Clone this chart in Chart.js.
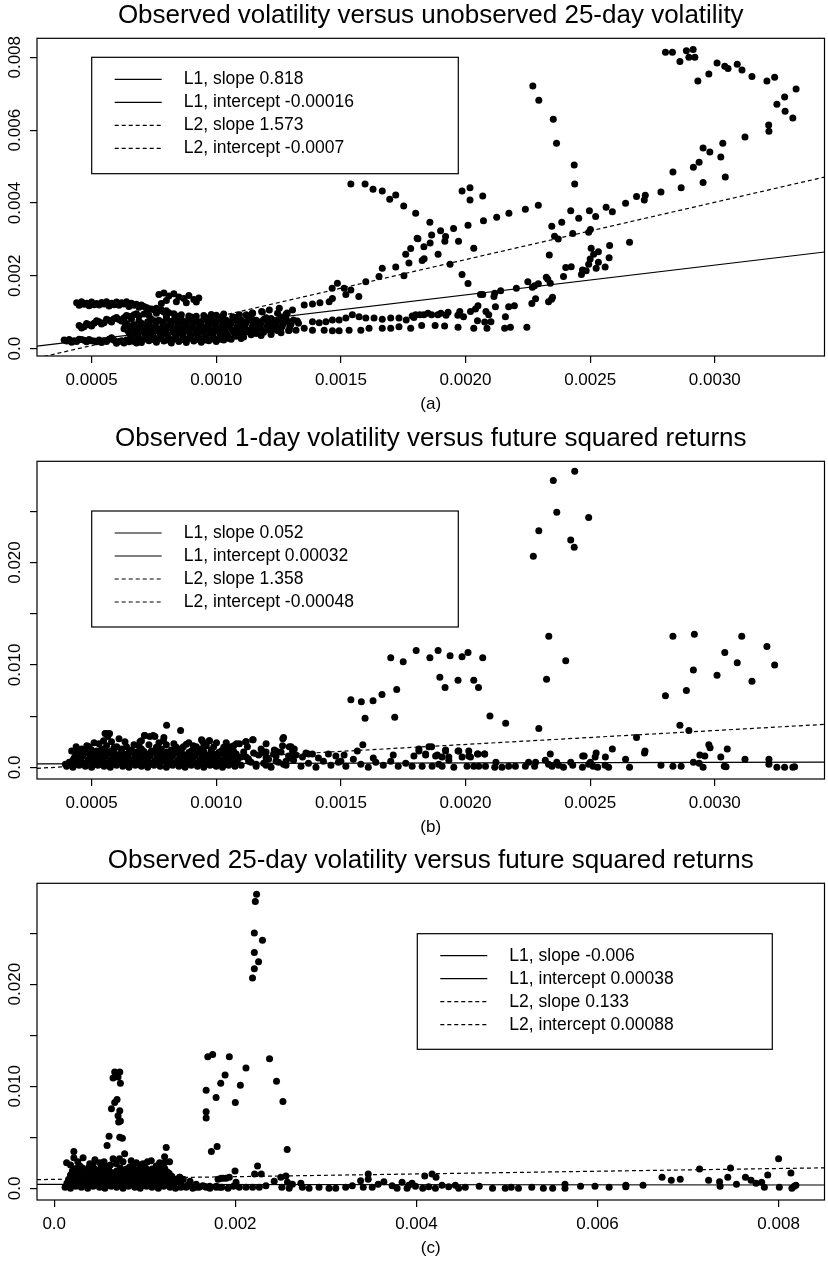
<!DOCTYPE html>
<html>
<head>
<meta charset="utf-8">
<title>Observed volatility scatter plots</title>
<script src="https://cdn.jsdelivr.net/npm/chart.js@4.4.1/dist/chart.umd.min.js"></script>
<style>
  html, body { margin: 0; padding: 0; background: #fff; overflow: hidden; }
  canvas { position: absolute; left: 0; }
</style>
</head>
<body>
<canvas id="chartA" width="828" height="418" style="top:0px"></canvas>
<canvas id="chartB" width="828" height="418" style="top:423px"></canvas>
<canvas id="chartC" width="828" height="417" style="top:845px"></canvas>
<script>
// ---------- data (a): observed vs unobserved 25-day volatility ----------
const ptsA = [
  // upper-right loop
  [28.02e-4,81.4e-4],[28.30e-4,81.4e-4],[28.6e-4,78.8e-4],[28.86e-4,81.8e-4],[28.96e-4,80.0e-4],[29.13e-4,82.1e-4],
  [29.2e-4,80.0e-4],[29.32e-4,73.5e-4],[29.76e-4,75.4e-4],[30.09e-4,78.4e-4],[30.4e-4,77.5e-4],[30.53e-4,76.9e-4],
  [30.9e-4,78.1e-4],[31.09e-4,76.5e-4],[31.49e-4,74.7e-4],[32.09e-4,73.5e-4],[32.4e-4,74.5e-4],[33.26e-4,71.3e-4],
  [32.8e-4,69.1e-4],[32.49e-4,67.1e-4],[32.82e-4,65.2e-4],[33.13e-4,63.3e-4],[32.16e-4,61.4e-4],[32.17e-4,59.7e-4],
  [31.21e-4,58.1e-4],[30.32e-4,56.4e-4],[29.53e-4,55.1e-4],[29.8e-4,54.0e-4],[30.24e-4,52.6e-4],[29.37e-4,51.2e-4],
  [29.14e-4,49.8e-4],[30.42e-4,47.1e-4],[29.53e-4,45.6e-4],[28.65e-4,44.2e-4],[28.32e-4,48.5e-4],[27.84e-4,43.0e-4],
  [27.21e-4,42.1e-4],[27.17e-4,40.8e-4],[26.86e-4,41.8e-4],[26.42e-4,39.9e-4],[25.89e-4,37.6e-4],[25.64e-4,38.8e-4],
  [25.22e-4,36.3e-4],[24.97e-4,37.9e-4],[25.01e-4,32.7e-4],[24.94e-4,32.0e-4],[24.54e-4,35.8e-4],[24.22e-4,37.9e-4],
  [24.3e-4,31.6e-4],[23.86e-4,34.7e-4],[23.46e-4,33.6e-4],[23.57e-4,30.9e-4],[23.72e-4,30.1e-4],[23.36e-4,25.7e-4],
  [22.92e-4,39.4e-4],[22.4e-4,38.3e-4],[21.74e-4,37.2e-4],[21.25e-4,36.1e-4],[20.72e-4,35.1e-4],[20.1e-4,33.9e-4],
  [19.52e-4,33.0e-4],[19.0e-4,32.4e-4],[19.2e-4,30.8e-4],[19.17e-4,29.5e-4],[18.64e-4,31.2e-4],[18.58e-4,29.0e-4],
  [18.33e-4,28.0e-4],[18.09e-4,30.2e-4],[18.57e-4,34.7e-4],[19.72e-4,29.5e-4],[19.38e-4,23.2e-4],[18.9e-4,25.9e-4],
  [18.34e-4,24.7e-4],[18.26e-4,24.2e-4],[17.73e-4,23.5e-4],[17.8e-4,27.5e-4],
  // steep chain
  [22.7e-4,72.1e-4],[22.94e-4,68.2e-4],[23.52e-4,63.0e-4],[23.65e-4,56.4e-4],[24.36e-4,50.4e-4],[24.38e-4,45.2e-4],
  [19.86e-4,43.3e-4],[20.18e-4,44.2e-4],[20.18e-4,40.8e-4],[20.69e-4,41.9e-4],[20.33e-4,27.6e-4],[19.86e-4,20.4e-4],[20.1e-4,17.9e-4],
  // lower-right chain
  [25.04e-4,27.6e-4],[25.14e-4,25.9e-4],[25.33e-4,26.6e-4],[25.0e-4,24.6e-4],[24.94e-4,23.2e-4],[25.33e-4,23.7e-4],
  [25.78e-4,28.3e-4],[25.76e-4,25.0e-4],[26.58e-4,29.2e-4],[25.6e-4,22.4e-4],[25.24e-4,22.1e-4],[24.84e-4,21.4e-4],
  [24.65e-4,20.4e-4],[24.69e-4,21.6e-4],[24.24e-4,22.5e-4],[24.02e-4,22.3e-4],[23.93e-4,19.8e-4],[23.24e-4,19.6e-4],
  [23.3e-4,19.1e-4],[23.4e-4,18.0e-4],[22.92e-4,17.8e-4],[22.77e-4,17.3e-4],[22.68e-4,16.9e-4],[22.5e-4,18.4e-4],
  [23.49e-4,14.1e-4],[23.45e-4,13.6e-4],[23.33e-4,12.9e-4],[22.81e-4,13.7e-4],[22.66e-4,12.4e-4],[22.04e-4,16.6e-4],
  [21.41e-4,15.9e-4],[21.17e-4,15.2e-4],[20.69e-4,14.9e-4],[20.6e-4,14.9e-4],[21.14e-4,14.3e-4],[21.2e-4,11.5e-4],
  [20.82e-4,10.2e-4],[20.5e-4,11.8e-4],[20.4e-4,10.9e-4],[20.2e-4,10.2e-4],[19.92e-4,8.8e-4],[19.77e-4,10.2e-4],
  [19.69e-4,9.2e-4],[19.3e-4,10.0e-4],[19.22e-4,9.2e-4],[19.01e-4,9.7e-4],[18.89e-4,9.3e-4],[18.64e-4,9.3e-4],
  [18.49e-4,9.7e-4],[18.33e-4,9.3e-4],[18.17e-4,9.3e-4],[18.0e-4,9.3e-4],[17.86e-4,9.0e-4],[21.73e-4,11.5e-4],
  [21.96e-4,11.8e-4],[21.6e-4,8.8e-4],[20.93e-4,9.3e-4],[21.02e-4,7.4e-4],[20.48e-4,7.7e-4],[20.77e-4,7.3e-4],
  [20.86e-4,5.6e-4],[20.33e-4,5.6e-4],[19.7e-4,5.9e-4],[19.16e-4,6.2e-4],[18.78e-4,6.4e-4],[18.24e-4,6.4e-4],
  [22.46e-4,5.9e-4],[21.8e-4,5.9e-4],[21.57e-4,5.6e-4],
  // middle band 0.0011-0.0018
  [15.4e-4,45.2e-4],[15.97e-4,45.2e-4],[16.29e-4,43.8e-4],[16.66e-4,43.3e-4],[16.96e-4,41.0e-4],[17.2e-4,42.2e-4],
  [17.52e-4,39.2e-4],[18.0e-4,37.2e-4],[18.06e-4,30.3e-4],[17.6e-4,25.9e-4],[17.53e-4,20.0e-4],[17.2e-4,22.4e-4],
  [16.66e-4,22.1e-4],[16.53e-4,19.8e-4],[16.0e-4,18.4e-4],[15.72e-4,14.3e-4],[15.4e-4,16.1e-4],[15.2e-4,14.9e-4],
  [15.13e-4,16.6e-4],[14.86e-4,18.0e-4],[14.65e-4,16.6e-4],[14.53e-4,12.9e-4],[14.66e-4,13.8e-4],[14.16e-4,12.6e-4],
  [13.86e-4,12.3e-4],[13.53e-4,12.0e-4],[13.06e-4,10.6e-4],[12.8e-4,9.5e-4],[12.46e-4,9.7e-4],[12.13e-4,10.6e-4],
  [11.82e-4,10.2e-4],[11.46e-4,9.7e-4],[11.2e-4,9.3e-4],[10.93e-4,9.3e-4],[10.66e-4,8.8e-4],[11.45e-4,9.8e-4],
  [11.85e-4,10.1e-4],[12.53e-4,11.1e-4],[12.85e-4,9.8e-4],
  [17.93e-4,8.6e-4],[17.62e-4,7.9e-4],[17.33e-4,8.4e-4],[17.0e-4,8.4e-4],[16.66e-4,8.1e-4],[16.33e-4,8.4e-4],
  [16.0e-4,8.4e-4],[15.73e-4,8.8e-4],[15.46e-4,9.3e-4],[15.2e-4,8.4e-4],[14.93e-4,7.9e-4],[14.66e-4,7.9e-4],
  [14.4e-4,7.4e-4],[14.13e-4,7.1e-4],[13.86e-4,7.4e-4],[17.8e-4,5.6e-4],[17.33e-4,6.0e-4],[17.0e-4,5.6e-4],
  [16.66e-4,5.6e-4],[16.13e-4,5.6e-4],[15.8e-4,5.1e-4],[15.33e-4,5.1e-4],[14.93e-4,4.9e-4],[14.66e-4,4.9e-4],
  [14.33e-4,5.1e-4],[13.86e-4,5.1e-4],[13.53e-4,5.6e-4],[13.2e-4,5.1e-4],[12.93e-4,5.1e-4],
  // upper band of the left cluster
  [4.4e-4,12.6e-4],[4.6e-4,12.9e-4],[4.8e-4,12.5e-4],[5.0e-4,12.8e-4],[5.2e-4,12.4e-4],[5.4e-4,12.7e-4],[5.6e-4,12.9e-4],
  [5.8e-4,12.5e-4],[6.0e-4,12.8e-4],[6.2e-4,12.6e-4],[6.4e-4,12.9e-4],[6.6e-4,12.5e-4],[6.8e-4,12.2e-4],[4.5e-4,11.9e-4],
  [4.9e-4,11.8e-4],[5.3e-4,12.0e-4],[5.7e-4,11.7e-4],[6.1e-4,11.9e-4],[6.5e-4,11.6e-4],[6.9e-4,11.4e-4],[7.1e-4,11.6e-4],
  [7.3e-4,11.0e-4],[7.5e-4,10.7e-4],[7.7e-4,10.4e-4],[7.9e-4,10.1e-4],[8.1e-4,9.9e-4],[8.3e-4,9.6e-4],[8.6e-4,9.3e-4],
  [8.9e-4,9.0e-4],[9.2e-4,8.9e-4],[9.5e-4,9.1e-4],[9.8e-4,9.4e-4],[10.0e-4,9.2e-4],[10.3e-4,9.5e-4],
  [4.7e-4,12.2e-4],[5.1e-4,12.1e-4],[5.5e-4,12.3e-4],[5.9e-4,12.1e-4],[6.3e-4,12.3e-4],[6.7e-4,11.9e-4],[7.0e-4,12.0e-4],
  [7.2e-4,11.3e-4],[7.4e-4,10.9e-4],[7.6e-4,11.1e-4],[7.8e-4,10.7e-4],[8.0e-4,10.4e-4],
  // sloping band
  [4.5e-4,6.4e-4],[4.7e-4,6.0e-4],[4.9e-4,6.6e-4],[5.1e-4,7.0e-4],[5.3e-4,7.4e-4],[5.5e-4,7.1e-4],[5.7e-4,7.8e-4],
  [5.9e-4,8.2e-4],[6.1e-4,8.0e-4],[6.3e-4,8.5e-4],[6.5e-4,8.9e-4],[6.7e-4,9.3e-4],[6.9e-4,9.0e-4],[7.1e-4,9.5e-4],
  [7.3e-4,9.2e-4],[4.6e-4,5.7e-4],[5.0e-4,6.2e-4],[5.4e-4,6.8e-4],[5.8e-4,7.3e-4],[6.2e-4,7.6e-4],[6.6e-4,8.1e-4],
  [4.8e-4,6.9e-4],[5.2e-4,7.7e-4],[5.6e-4,8.1e-4],[6.0e-4,8.6e-4],[6.4e-4,9.1e-4],[6.8e-4,9.6e-4],[7.2e-4,9.9e-4],
  [7.6e-4,9.7e-4],[8.0e-4,9.4e-4],[8.4e-4,9.0e-4],
  // bottom band
  [3.9e-4,2.4e-4],[4.1e-4,2.5e-4],[4.3e-4,2.2e-4],[4.5e-4,2.6e-4],[4.7e-4,2.3e-4],[4.9e-4,2.5e-4],[5.1e-4,2.1e-4],
  [5.3e-4,2.4e-4],[5.5e-4,2.2e-4],[5.7e-4,2.6e-4],[5.9e-4,2.3e-4],[6.1e-4,2.0e-4],[6.3e-4,1.6e-4],[4.2e-4,1.8e-4],
  [4.8e-4,1.9e-4],[5.4e-4,1.7e-4],[6.0e-4,1.5e-4],[6.5e-4,1.9e-4],[5.8e-4,3.0e-4],[4.0e-4,2.1e-4],[4.4e-4,2.0e-4],
  [4.6e-4,2.5e-4],[5.0e-4,2.2e-4],[5.2e-4,1.9e-4],[5.6e-4,2.0e-4],[6.2e-4,2.2e-4],[6.4e-4,2.4e-4],[6.8e-4,1.6e-4],
  // small high cluster near 0.0009
  [7.7e-4,14.9e-4],[7.9e-4,15.3e-4],[8.1e-4,14.5e-4],[8.3e-4,15.1e-4],[8.5e-4,14.2e-4],[8.7e-4,13.8e-4],[8.9e-4,14.6e-4],
  [9.1e-4,13.5e-4],[9.3e-4,13.9e-4],[8.0e-4,13.2e-4],[8.4e-4,12.9e-4],[8.8e-4,12.6e-4],[9.2e-4,12.8e-4],[7.8e-4,12.4e-4],
  // dense core
  [6.7e-4,2.0e-4],[7.0e-4,1.7e-4],[7.3e-4,2.2e-4],[7.6e-4,1.8e-4],[7.9e-4,2.1e-4],[8.2e-4,1.6e-4],[8.5e-4,2.0e-4],
  [8.8e-4,1.7e-4],[9.1e-4,2.1e-4],[9.4e-4,1.8e-4],[9.7e-4,2.2e-4],[10.0e-4,2.0e-4],[10.3e-4,2.4e-4],
  [6.85e-4,2.6e-4],[7.15e-4,2.7e-4],[7.45e-4,2.5e-4],[7.75e-4,2.8e-4],[8.05e-4,2.4e-4],[8.35e-4,2.7e-4],[8.65e-4,2.5e-4],
  [8.95e-4,2.8e-4],[9.25e-4,2.6e-4],[9.55e-4,2.4e-4],[9.85e-4,2.7e-4],[10.15e-4,2.6e-4],[10.45e-4,2.9e-4],
  [6.6e-4,3.3e-4],[6.9e-4,3.0e-4],[7.2e-4,3.4e-4],[7.5e-4,3.1e-4],[7.8e-4,3.5e-4],[8.1e-4,2.9e-4],[8.4e-4,3.3e-4],
  [8.7e-4,3.0e-4],[9.0e-4,3.4e-4],[9.3e-4,3.1e-4],[9.6e-4,3.5e-4],[9.9e-4,3.0e-4],[10.2e-4,3.3e-4],[10.5e-4,3.0e-4],
  [10.8e-4,3.4e-4],[11.1e-4,3.2e-4],
  [6.55e-4,3.9e-4],[6.85e-4,3.7e-4],[7.15e-4,4.0e-4],[7.45e-4,3.8e-4],[7.75e-4,4.1e-4],[8.05e-4,3.7e-4],[8.35e-4,3.9e-4],
  [8.65e-4,4.0e-4],[8.95e-4,3.8e-4],[9.25e-4,4.1e-4],[9.55e-4,3.7e-4],[9.85e-4,3.9e-4],[10.15e-4,4.0e-4],[10.45e-4,3.7e-4],
  [10.75e-4,3.9e-4],[11.05e-4,3.8e-4],
  [6.5e-4,4.5e-4],[6.8e-4,4.2e-4],[7.1e-4,4.6e-4],[7.4e-4,4.3e-4],[7.7e-4,4.7e-4],[8.0e-4,4.1e-4],[8.3e-4,4.5e-4],
  [8.6e-4,4.4e-4],[8.9e-4,4.7e-4],[9.2e-4,4.2e-4],[9.5e-4,4.6e-4],[9.8e-4,4.3e-4],[10.1e-4,4.7e-4],[10.4e-4,4.2e-4],
  [10.7e-4,4.5e-4],[11.0e-4,4.3e-4],[11.3e-4,4.6e-4],[11.6e-4,4.2e-4],[11.9e-4,4.5e-4],[12.2e-4,4.6e-4],
  [6.45e-4,5.0e-4],[6.75e-4,5.2e-4],[7.05e-4,4.9e-4],[7.35e-4,5.1e-4],[7.65e-4,5.3e-4],[7.95e-4,4.9e-4],[8.25e-4,5.1e-4],
  [8.55e-4,5.2e-4],[8.85e-4,4.9e-4],[9.15e-4,5.2e-4],[9.45e-4,5.0e-4],[9.75e-4,5.1e-4],[10.05e-4,4.9e-4],[10.35e-4,5.2e-4],
  [10.65e-4,5.0e-4],[10.95e-4,5.1e-4],[11.25e-4,4.9e-4],[11.55e-4,5.2e-4],[11.85e-4,5.0e-4],[12.15e-4,5.1e-4],[12.45e-4,5.0e-4],
  [6.3e-4,5.5e-4],[6.6e-4,5.8e-4],[6.9e-4,5.4e-4],[7.2e-4,5.7e-4],[7.5e-4,5.9e-4],[7.8e-4,5.5e-4],[8.1e-4,5.8e-4],
  [8.4e-4,5.4e-4],[8.7e-4,5.7e-4],[9.0e-4,5.9e-4],[9.3e-4,5.5e-4],[9.6e-4,5.8e-4],[9.9e-4,5.4e-4],[10.2e-4,5.7e-4],
  [10.5e-4,5.9e-4],[10.8e-4,5.5e-4],[11.1e-4,5.8e-4],[11.4e-4,5.4e-4],[11.7e-4,5.7e-4],[12.0e-4,5.5e-4],[12.3e-4,5.9e-4],
  [12.6e-4,5.6e-4],
  [6.35e-4,6.2e-4],[6.65e-4,6.3e-4],[6.95e-4,6.1e-4],[7.25e-4,6.4e-4],[7.55e-4,6.2e-4],[7.85e-4,6.0e-4],[8.15e-4,6.3e-4],
  [8.45e-4,6.2e-4],[8.75e-4,6.4e-4],[9.05e-4,6.1e-4],[9.35e-4,6.3e-4],[9.65e-4,6.2e-4],[9.95e-4,6.4e-4],[10.25e-4,6.1e-4],
  [10.55e-4,6.3e-4],[10.85e-4,6.2e-4],[11.15e-4,6.4e-4],[11.45e-4,6.1e-4],[11.75e-4,6.3e-4],[12.05e-4,6.2e-4],[12.35e-4,6.4e-4],
  [12.65e-4,6.2e-4],[12.95e-4,6.0e-4],
  [6.4e-4,6.9e-4],[6.7e-4,6.6e-4],[7.0e-4,7.0e-4],[7.3e-4,6.7e-4],[7.6e-4,7.1e-4],[7.9e-4,6.6e-4],[8.2e-4,6.9e-4],
  [8.5e-4,7.1e-4],[8.8e-4,6.7e-4],[9.1e-4,7.0e-4],[9.4e-4,6.6e-4],[9.7e-4,6.9e-4],[10.0e-4,7.1e-4],[10.3e-4,6.7e-4],
  [10.6e-4,7.0e-4],[10.9e-4,6.8e-4],[11.2e-4,7.1e-4],[11.5e-4,6.6e-4],[11.8e-4,6.9e-4],[12.1e-4,7.0e-4],[12.4e-4,6.7e-4],
  [12.7e-4,7.0e-4],[13.0e-4,6.8e-4],[13.3e-4,7.0e-4],
  [6.9e-4,7.6e-4],[7.25e-4,7.4e-4],[7.55e-4,7.6e-4],[7.85e-4,7.3e-4],[8.15e-4,7.5e-4],[8.45e-4,7.6e-4],[8.75e-4,7.4e-4],
  [9.05e-4,7.5e-4],[9.35e-4,7.3e-4],[9.65e-4,7.6e-4],[9.95e-4,7.4e-4],[10.25e-4,7.5e-4],[10.55e-4,7.3e-4],[10.85e-4,7.6e-4],
  [11.15e-4,7.4e-4],[11.45e-4,7.5e-4],[11.75e-4,7.3e-4],[12.05e-4,7.6e-4],[12.35e-4,7.4e-4],[12.65e-4,7.5e-4],[12.95e-4,7.3e-4],
  [13.25e-4,7.6e-4],
  [7.4e-4,8.1e-4],[7.7e-4,7.8e-4],[8.0e-4,8.2e-4],[8.3e-4,7.9e-4],[8.6e-4,8.0e-4],[8.9e-4,8.3e-4],[9.2e-4,7.8e-4],
  [9.5e-4,8.1e-4],[9.8e-4,7.9e-4],[10.1e-4,8.2e-4],[10.4e-4,7.8e-4],[10.7e-4,8.1e-4],[11.0e-4,7.9e-4],[11.3e-4,8.2e-4],
  [11.6e-4,7.8e-4],[11.9e-4,8.0e-4],[12.2e-4,8.3e-4],[12.5e-4,7.9e-4],[12.8e-4,8.2e-4],[13.1e-4,7.9e-4],
  [8.0e-4,8.8e-4],[8.5e-4,8.6e-4],[9.0e-4,8.7e-4],[9.6e-4,8.5e-4],[10.2e-4,8.7e-4],[10.8e-4,8.6e-4],[11.4e-4,8.8e-4],
  [12.0e-4,8.5e-4],[12.6e-4,8.7e-4],
  [11.4e-4,3.8e-4],[11.8e-4,3.6e-4],[12.2e-4,3.9e-4],[12.6e-4,4.4e-4],[12.9e-4,5.0e-4],[10.6e-4,2.6e-4],[11.0e-4,2.8e-4]
];

// ---------- data (b): observed 1-day volatility vs future squared returns ----------
const ptsB = [
  [24.38e-4,28.9e-3],[23.52e-4,28.0e-3],[23.66e-4,24.9e-3],[24.94e-4,24.4e-3],[22.94e-4,23.1e-3],[24.22e-4,22.2e-3],
  [24.36e-4,21.5e-3],[22.72e-4,20.6e-3],[23.34e-4,12.8e-3],[24.02e-4,10.4e-3],[23.25e-4,8.6e-3],[22.94e-4,3.8e-3],
  [18.02e-4,11.4e-3],[18.57e-4,10.7e-3],[18.9e-4,11.4e-3],[19.38e-4,10.9e-3],[19.86e-4,10.8e-3],[20.1e-4,11.2e-3],
  [20.69e-4,10.7e-3],[18.97e-4,8.8e-3],[19.18e-4,7.8e-3],[19.7e-4,8.5e-3],[20.33e-4,8.5e-3],[20.52e-4,7.8e-3],
  [20.98e-4,5.0e-3],[21.61e-4,4.3e-3],[17.0e-4,10.7e-3],[17.5e-4,10.3e-3],
  [28.32e-4,12.8e-3],[29.18e-4,13.0e-3],[31.08e-4,12.8e-3],[32.09e-4,11.8e-3],[32.4e-4,10.0e-3],[30.4e-4,11.2e-3],
  [30.9e-4,10.2e-3],[29.14e-4,9.5e-3],[30.09e-4,9.0e-3],[31.49e-4,8.4e-3],[28.86e-4,7.5e-3],[28.02e-4,7.0e-3],
  [26.86e-4,2.9e-3],[28.6e-4,4.1e-3],[28.96e-4,3.6e-3],
  [15.4e-4,6.6e-3],[15.82e-4,6.4e-3],[15.97e-4,4.8e-3],[16.29e-4,6.5e-3],[16.65e-4,7.1e-3],[17.24e-4,7.6e-3],
  [17.16e-4,4.9e-3],[11.46e-4,2.7e-3],[12.7e-4,2.9e-3],[15.88e-4,2.2e-3],[15.66e-4,1.6e-3],[15.13e-4,1.2e-3],
  [13.86e-4,1.3e-3],[13.7e-4,1.3e-3],[18.64e-4,2.0e-3],[18.13e-4,1.8e-3],[17.93e-4,1.1e-3],[18.4e-4,1.2e-3],
  [19.2e-4,1.7e-3],[19.7e-4,1.6e-3],[20.13e-4,1.1e-3],[20.48e-4,1.3e-3],[20.77e-4,1.3e-3],[19.33e-4,1.0e-3],
  [18.87e-4,1.2e-3],[13.13e-4,1.8e-3],[12.93e-4,2.0e-3],[12.66e-4,2.1e-3],[12.33e-4,1.7e-3],[13.06e-4,1.6e-3],
  [13.46e-4,1.0e-3],[12.0e-4,1.5e-3],
  [29.76e-4,2.2e-3],[29.81e-4,1.9e-3],[30.5e-4,1.8e-3],[30.24e-4,1.0e-3],[29.4e-4,1.2e-3],[29.6e-4,1.1e-3],
  [31.21e-4,0.8e-3],[32.17e-4,0.8e-3],[32.17e-4,0.3e-3],[32.49e-4,0.0],[32.8e-4,0.0],[33.13e-4,0.0],[33.2e-4,0.05e-3],
  [30.38e-4,0.1e-3],[30.45e-4,0.05e-3],[29.53e-4,0.0],[29.14e-4,0.5e-3],[29.37e-4,0.4e-3],[28.65e-4,0.1e-3],
  [28.32e-4,0.1e-3],[27.84e-4,0.2e-3],[27.18e-4,1.4e-3],[27.2e-4,1.6e-3],[26.42e-4,0.8e-3],[26.58e-4,0.0],
  [25.89e-4,1.8e-3],[25.61e-4,1.0e-3],[25.24e-4,1.4e-3],[25.2e-4,1.0e-3],[24.7e-4,1.1e-3],[24.76e-4,1.1e-3],
  [24.22e-4,0.5e-3],[24.3e-4,0.2e-3],[24.69e-4,0.0],[24.94e-4,0.3e-3],[25.01e-4,0.5e-3],[25.12e-4,0.1e-3],
  [25.3e-4,0.0],[25.74e-4,0.0],[25.6e-4,0.2e-3],[23.4e-4,1.3e-3],[23.2e-4,0.7e-3],[23.33e-4,0.3e-3],
  [23.47e-4,0.1e-3],[23.66e-4,0.5e-3],[23.73e-4,0.2e-3],[23.93e-4,0.0],[22.81e-4,0.5e-3],[22.53e-4,0.5e-3],
  [22.77e-4,0.1e-3],[22.4e-4,0.1e-3],[22.0e-4,0.1e-3],[21.73e-4,0.1e-3],[21.46e-4,0.0],[21.22e-4,0.5e-3],
  [21.17e-4,0.0],[20.8e-4,0.1e-3],[20.53e-4,0.1e-3],[20.33e-4,0.1e-3],[20.06e-4,0.1e-3],[20.76e-4,1.3e-3],
  [20.5e-4,1.3e-3],[20.13e-4,1.6e-3],[19.73e-4,1.6e-3],[19.2e-4,1.6e-3],[19.06e-4,1.0e-3],[19.33e-4,0.7e-3],
  [18.53e-4,2.0e-3],[18.13e-4,1.6e-3],[18.4e-4,1.3e-3],[18.8e-4,1.1e-3],[19.53e-4,0.0],[19.86e-4,1.0e-3],
  [20.2e-4,1.0e-3],[18.66e-4,0.1e-3],[18.26e-4,0.1e-3],[17.86e-4,0.1e-3],[18.93e-4,0.3e-3],[19.06e-4,0.1e-3],
  // low strip 0.0011-0.0018
  [11.0e-4,0.2e-3],[11.3e-4,0.6e-3],[11.6e-4,0.1e-3],[11.9e-4,0.4e-3],[12.2e-4,0.0],[12.5e-4,0.5e-3],[12.8e-4,0.2e-3],
  [13.1e-4,0.7e-3],[13.4e-4,0.1e-3],[13.7e-4,0.4e-3],[14.0e-4,0.0],[14.3e-4,0.6e-3],[14.6e-4,0.2e-3],[14.9e-4,0.5e-3],
  [15.2e-4,0.1e-3],[15.5e-4,0.8e-3],[15.8e-4,0.3e-3],[16.1e-4,0.0],[16.4e-4,0.5e-3],[16.7e-4,0.2e-3],[17.0e-4,0.6e-3],
  [17.3e-4,0.1e-3],[17.6e-4,0.4e-3],[11.2e-4,1.0e-3],[12.0e-4,0.9e-3],[12.9e-4,1.1e-3],[14.1e-4,0.9e-3],[14.8e-4,1.1e-3],
  [16.3e-4,0.9e-3],[17.1e-4,1.2e-3],[15.0e-4,0.6e-3],[13.6e-4,1.4e-3],[14.5e-4,1.3e-3],
  // dense left cluster
  [4.0e-4,0.1e-3],[4.25e-4,0.0],[4.5e-4,0.2e-3],[4.75e-4,0.1e-3],[5.0e-4,0.0],[5.25e-4,0.2e-3],[5.5e-4,0.1e-3],
  [5.75e-4,0.0],[6.0e-4,0.2e-3],[6.25e-4,0.1e-3],[6.5e-4,0.0],[6.75e-4,0.2e-3],[7.0e-4,0.1e-3],[7.25e-4,0.0],
  [7.5e-4,0.2e-3],[7.75e-4,0.1e-3],[8.0e-4,0.0],[8.25e-4,0.2e-3],[8.5e-4,0.1e-3],[8.75e-4,0.0],[9.0e-4,0.2e-3],
  [9.25e-4,0.1e-3],[9.5e-4,0.0],[9.75e-4,0.2e-3],[10.0e-4,0.1e-3],[10.25e-4,0.0],[10.5e-4,0.2e-3],[10.75e-4,0.1e-3],
  [4.15e-4,0.3e-3],[4.45e-4,0.3e-3],[4.75e-4,0.35e-3],[5.05e-4,0.3e-3],[5.35e-4,0.3e-3],[5.65e-4,0.35e-3],[5.95e-4,0.3e-3],
  [6.25e-4,0.3e-3],[6.55e-4,0.35e-3],[6.85e-4,0.3e-3],[7.15e-4,0.3e-3],[7.45e-4,0.35e-3],[7.75e-4,0.3e-3],[8.05e-4,0.3e-3],
  [8.35e-4,0.35e-3],[8.65e-4,0.3e-3],[8.95e-4,0.3e-3],[9.25e-4,0.35e-3],[9.55e-4,0.3e-3],[9.85e-4,0.3e-3],[10.15e-4,0.35e-3],
  [10.45e-4,0.3e-3],[10.75e-4,0.3e-3],
  [4.1e-4,0.5e-3],[4.4e-4,0.6e-3],[4.7e-4,0.4e-3],[5.0e-4,0.5e-3],[5.3e-4,0.6e-3],[5.6e-4,0.4e-3],[5.9e-4,0.5e-3],
  [6.2e-4,0.6e-3],[6.5e-4,0.4e-3],[6.8e-4,0.5e-3],[7.1e-4,0.6e-3],[7.4e-4,0.4e-3],[7.7e-4,0.5e-3],[8.0e-4,0.6e-3],
  [8.3e-4,0.4e-3],[8.6e-4,0.5e-3],[8.9e-4,0.6e-3],[9.2e-4,0.4e-3],[9.5e-4,0.5e-3],[9.8e-4,0.6e-3],[10.1e-4,0.4e-3],
  [10.4e-4,0.5e-3],[10.7e-4,0.6e-3],
  [4.25e-4,0.7e-3],[4.55e-4,0.75e-3],[4.85e-4,0.7e-3],[5.15e-4,0.65e-3],[5.45e-4,0.7e-3],[5.75e-4,0.75e-3],[6.05e-4,0.7e-3],
  [6.35e-4,0.65e-3],[6.65e-4,0.7e-3],[6.95e-4,0.75e-3],[7.25e-4,0.7e-3],[7.55e-4,0.65e-3],[7.85e-4,0.7e-3],[8.15e-4,0.75e-3],
  [8.45e-4,0.7e-3],[8.75e-4,0.65e-3],[9.05e-4,0.7e-3],[9.35e-4,0.75e-3],[9.65e-4,0.7e-3],[9.95e-4,0.65e-3],[10.25e-4,0.7e-3],
  [10.55e-4,0.75e-3],[10.85e-4,0.7e-3],
  [4.3e-4,0.9e-3],[4.6e-4,1.0e-3],[4.9e-4,0.8e-3],[5.2e-4,0.9e-3],[5.5e-4,1.0e-3],[5.8e-4,0.8e-3],[6.1e-4,0.9e-3],
  [6.4e-4,1.0e-3],[6.7e-4,0.8e-3],[7.0e-4,0.9e-3],[7.3e-4,1.0e-3],[7.6e-4,0.8e-3],[7.9e-4,0.9e-3],[8.2e-4,1.0e-3],
  [8.5e-4,0.8e-3],[8.8e-4,0.9e-3],[9.1e-4,1.0e-3],[9.4e-4,0.8e-3],[9.7e-4,0.9e-3],[10.0e-4,1.0e-3],[10.3e-4,0.8e-3],
  [10.6e-4,0.9e-3],
  [4.35e-4,1.1e-3],[4.65e-4,1.15e-3],[4.95e-4,1.1e-3],[5.25e-4,1.05e-3],[5.55e-4,1.1e-3],[5.85e-4,1.15e-3],[6.15e-4,1.1e-3],
  [6.45e-4,1.05e-3],[6.75e-4,1.1e-3],[7.05e-4,1.15e-3],[7.35e-4,1.1e-3],[7.65e-4,1.05e-3],[7.95e-4,1.1e-3],[8.25e-4,1.15e-3],
  [8.55e-4,1.1e-3],[8.85e-4,1.05e-3],[9.15e-4,1.1e-3],[9.45e-4,1.15e-3],[9.75e-4,1.1e-3],[10.05e-4,1.05e-3],[10.35e-4,1.1e-3],
  [10.65e-4,1.15e-3],
  [4.5e-4,1.3e-3],[4.8e-4,1.4e-3],[5.1e-4,1.2e-3],[5.4e-4,1.3e-3],[5.7e-4,1.4e-3],[6.0e-4,1.2e-3],[6.3e-4,1.3e-3],
  [6.6e-4,1.4e-3],[6.9e-4,1.2e-3],[7.2e-4,1.3e-3],[7.5e-4,1.4e-3],[7.8e-4,1.2e-3],[8.1e-4,1.3e-3],[8.4e-4,1.4e-3],
  [8.7e-4,1.2e-3],[9.0e-4,1.3e-3],[9.3e-4,1.4e-3],[9.6e-4,1.2e-3],[9.9e-4,1.3e-3],[10.2e-4,1.4e-3],[10.5e-4,1.2e-3],
  [10.8e-4,1.3e-3],
  [4.4e-4,1.5e-3],[4.7e-4,1.55e-3],[5.0e-4,1.5e-3],[5.3e-4,1.45e-3],[5.6e-4,1.5e-3],[5.9e-4,1.55e-3],[6.2e-4,1.5e-3],
  [6.5e-4,1.45e-3],[6.8e-4,1.5e-3],[7.1e-4,1.55e-3],[7.4e-4,1.5e-3],[7.7e-4,1.45e-3],[8.0e-4,1.5e-3],[8.3e-4,1.55e-3],
  [8.6e-4,1.5e-3],[8.9e-4,1.45e-3],[9.2e-4,1.5e-3],[9.5e-4,1.55e-3],[9.8e-4,1.5e-3],[10.1e-4,1.45e-3],[10.4e-4,1.5e-3],
  [10.7e-4,1.55e-3],
  [4.6e-4,1.8e-3],[5.0e-4,1.7e-3],[5.4e-4,1.8e-3],[5.8e-4,1.6e-3],[6.2e-4,1.8e-3],[6.6e-4,1.7e-3],[7.0e-4,1.8e-3],
  [7.4e-4,1.6e-3],[7.8e-4,1.8e-3],[8.2e-4,1.7e-3],[8.6e-4,1.8e-3],[9.0e-4,1.6e-3],[9.4e-4,1.8e-3],[9.8e-4,1.7e-3],
  [10.2e-4,1.6e-3],[10.6e-4,1.8e-3],
  [4.9e-4,2.0e-3],[5.6e-4,2.1e-3],[5.9e-4,1.9e-3],[6.4e-4,2.0e-3],[6.9e-4,2.1e-3],[7.3e-4,2.2e-3],[7.6e-4,1.95e-3],
  [8.0e-4,2.2e-3],[8.4e-4,1.95e-3],[8.8e-4,2.25e-3],[9.2e-4,2.0e-3],[9.6e-4,2.1e-3],[10.3e-4,1.95e-3],[10.7e-4,2.1e-3],
  [5.1e-4,2.4e-3],[5.8e-4,2.5e-3],[7.0e-4,2.6e-3],[7.7e-4,2.4e-3],[8.9e-4,2.4e-3],[9.5e-4,2.3e-3],[10.4e-4,2.4e-3],
  [6.1e-4,2.8e-3],[7.9e-4,2.9e-3],[5.65e-4,3.0e-3],
  [8.01e-4,4.1e-3],[8.57e-4,3.6e-3],[5.54e-4,3.3e-3],[5.72e-4,3.3e-3],[7.12e-4,3.1e-3],[7.34e-4,3.0e-3],[7.54e-4,3.0e-3],
  [9.41e-4,2.7e-3],[9.72e-4,2.6e-3],[10.01e-4,2.4e-3],[11.18e-4,2.5e-3],[11.48e-4,2.7e-3],[6.34e-4,2.5e-3],[6.94e-4,2.5e-3],
  [7.88e-4,2.6e-3],[5.48e-4,2.6e-3],[4.38e-4,2.0e-3],[4.81e-4,2.1e-3],[4.55e-4,1.6e-3],[5.21e-4,1.6e-3],[6.01e-4,2.0e-3],
  [10.81e-4,2.3e-3],[10.54e-4,2.0e-3],[9.08e-4,2.1e-3],[8.68e-4,2.0e-3],[12.67e-4,2.8e-3],[11.2e-4,2.5e-3],[10.93e-4,2.3e-3],
  [9.73e-4,2.6e-3],[9.44e-4,2.6e-3],[7.13e-4,3.1e-3],[7.47e-4,3.1e-3],[5.6e-4,3.3e-3],[12.4e-4,1.6e-3],[13.0e-4,2.0e-3],
  [11.0e-4,1.0e-3],[11.4e-4,0.5e-3],[11.7e-4,1.2e-3],[12.1e-4,0.8e-3],[12.4e-4,1.1e-3],[12.8e-4,0.6e-3],[13.2e-4,1.2e-3],
  [12.6e-4,1.5e-3],[11.8e-4,1.8e-3],[5.3e-4,2.3e-3],[6.7e-4,2.2e-3],[8.3e-4,2.3e-3],[9.9e-4,2.0e-3],[4.2e-4,1.6e-3],
  [3.95e-4,0.3e-3],[11.1e-4,1.5e-3],[11.5e-4,1.4e-3],[11.9e-4,1.5e-3],[12.3e-4,1.3e-3],[11.3e-4,0.8e-3],[11.6e-4,0.3e-3],
  [12.0e-4,0.2e-3],[12.4e-4,0.6e-3],[12.7e-4,0.3e-3],[13.0e-4,0.9e-3],[11.25e-4,2.0e-3],[12.0e-4,2.3e-3]
];

// ---------- data (c): observed 25-day volatility vs future squared returns ----------
const ptsC = [
  [2.235e-3,28.8e-3],[2.221e-3,28.1e-3],[2.21e-3,25.0e-3],[2.30e-3,24.3e-3],[2.21e-3,23.1e-3],[2.257e-3,22.2e-3],
  [2.21e-3,21.5e-3],[2.19e-3,20.6e-3],[2.378e-3,12.7e-3],[2.455e-3,10.5e-3],[2.526e-3,8.5e-3],[2.573e-3,3.8e-3],
  [2.246e-3,2.2e-3],[2.213e-3,1.4e-3],[2.287e-3,1.4e-3],[1.696e-3,12.9e-3],[1.75e-3,13.1e-3],[1.934e-3,12.9e-3],
  [2.118e-3,11.8e-3],[1.887e-3,11.1e-3],[1.839e-3,10.3e-3],[2.056e-3,10.1e-3],[1.678e-3,9.6e-3],[1.788e-3,8.9e-3],
  [2.0e-3,8.4e-3],[1.678e-3,7.5e-3],[1.678e-3,6.9e-3],[1.799e-3,4.1e-3],[1.736e-3,3.6e-3],[1.997e-3,1.7e-3],
  [1.843e-3,1.0e-3],[1.898e-3,1.0e-3],[1.934e-3,1.1e-3],[2.43e-3,0.7e-3],[2.503e-3,1.1e-3],[2.559e-3,1.2e-3],
  [2.576e-3,0.6e-3],[2.008e-3,0.6e-3],
  [1.457e-3,0.1e-3],[1.568e-3,0.1e-3],[1.678e-3,0.1e-3],[1.788e-3,0.1e-3],[2.044e-3,0.1e-3],[2.118e-3,0.1e-3],
  [2.191e-3,0.1e-3],[2.265e-3,0.1e-3],[2.338e-3,0.25e-3],[2.514e-3,0.1e-3],[2.595e-3,0.0],[2.741e-3,0.1e-3],
  [2.815e-3,0.0],[2.925e-3,0.1e-3],[3.035e-3,0.0],[3.109e-3,0.0],[3.219e-3,0.1e-3],[3.292e-3,0.25e-3],
  [3.384e-3,0.75e-3],[3.468e-3,0.9e-3],[3.468e-3,1.4e-3],[3.413e-3,0.1e-3],[3.512e-3,0.1e-3],[3.578e-3,0.4e-3],
  [3.641e-3,0.65e-3],[3.732e-3,0.25e-3],[3.787e-3,0.0],[3.842e-3,0.6e-3],[3.897e-3,0.0],[3.952e-3,0.5e-3],
  [1.568e-3,0.4e-3],[1.64e-3,0.25e-3],[2.631e-3,0.4e-3],[2.724e-3,0.5e-3],
  [4.092e-3,1.2e-3],[4.173e-3,1.4e-3],[4.217e-3,1.1e-3],[3.916e-3,0.3e-3],[3.99e-3,0.2e-3],[4.07e-3,0.0],
  [4.136e-3,0.16e-3],[4.21e-3,0.0],[4.283e-3,0.3e-3],[4.356e-3,0.16e-3],[4.43e-3,0.3e-3],[4.467e-3,0.0],
  [4.54e-3,0.1e-3],[4.694e-3,0.2e-3],[4.841e-3,0.0],[4.981e-3,0.0],[5.047e-3,0.1e-3],[5.127e-3,0.0],
  [5.274e-3,0.1e-3],[5.402e-3,0.0],[5.505e-3,0.0],[5.641e-3,0.4e-3],[5.641e-3,0.0],[5.813e-3,0.2e-3],
  [5.972e-3,0.2e-3],[6.129e-3,0.1e-3],[6.313e-3,0.3e-3],[6.313e-3,0.16e-3],[6.503e-3,0.3e-3],[6.713e-3,1.1e-3],
  [6.815e-3,0.8e-3],[6.914e-3,0.9e-3],[7.127e-3,1.9e-3],[7.227e-3,0.8e-3],[7.348e-3,0.65e-3],[7.354e-3,0.2e-3],
  [7.439e-3,1.1e-3],[7.469e-3,2.0e-3],[7.535e-3,0.4e-3],[7.634e-3,1.1e-3],[7.696e-3,0.8e-3],[7.751e-3,0.5e-3],
  [7.813e-3,0.6e-3],[7.843e-3,0.1e-3],[7.88e-3,1.3e-3],[8.0e-3,2.9e-3],[8.008e-3,0.1e-3],[8.136e-3,1.5e-3],
  [8.147e-3,0.0],[8.173e-3,0.2e-3],[8.191e-3,0.3e-3],
  // spike near 0.0007
  [0.668e-3,11.4e-3],[0.724e-3,11.4e-3],[0.65e-3,10.8e-3],[0.705e-3,10.9e-3],[0.731e-3,10.3e-3],[0.694e-3,8.7e-3],
  [0.668e-3,8.4e-3],[0.632e-3,7.8e-3],[0.724e-3,7.6e-3],[0.705e-3,7.1e-3],[0.731e-3,6.6e-3],[0.712e-3,6.5e-3],
  [0.724e-3,5.0e-3],[0.753e-3,4.9e-3],[0.606e-3,5.1e-3],[0.584e-3,4.2e-3],[0.778e-3,3.4e-3],[0.217e-3,3.6e-3],
  [0.217e-3,3.0e-3],[1.237e-3,4.0e-3],[1.219e-3,3.1e-3],[1.219e-3,2.5e-3],[1.384e-3,1.1e-3],
  [1.81e-3,0.9e-3],[1.865e-3,1.0e-3],[1.387e-3,1.1e-3],[1.425e-3,0.9e-3],[1.717e-3,0.2e-3],[1.828e-3,0.1e-3],[1.571e-3,0.3e-3],
  [0.319e-3,3.0e-3],[0.503e-3,2.5e-3],[0.65e-3,2.9e-3],[0.76e-3,2.6e-3],[0.907e-3,2.5e-3],[1.072e-3,2.7e-3],
  [1.164e-3,2.5e-3],[1.274e-3,2.6e-3],[0.137e-3,2.5e-3],[0.283e-3,2.2e-3],[0.393e-3,2.4e-3],[0.98e-3,2.4e-3],
  [0.833e-3,2.1e-3],[0.577e-3,2.2e-3],[0.687e-3,2.4e-3],[1.127e-3,2.2e-3],
  [0.26e-3,2.6e-3],[0.45e-3,2.8e-3],[0.55e-3,2.6e-3],[0.72e-3,2.9e-3],[0.85e-3,2.7e-3],[0.95e-3,2.3e-3],[1.03e-3,2.6e-3],
  [1.2e-3,2.3e-3],[0.18e-3,2.3e-3],[0.43e-3,2.4e-3],[0.62e-3,2.3e-3],
  // dense cluster
  [0.12e-3,0.1e-3],[0.18e-3,0.0],[0.24e-3,0.2e-3],[0.30e-3,0.1e-3],[0.37e-3,0.0],[0.43e-3,0.2e-3],[0.50e-3,0.1e-3],
  [0.56e-3,0.0],[0.63e-3,0.2e-3],[0.69e-3,0.1e-3],[0.76e-3,0.0],[0.82e-3,0.2e-3],[0.89e-3,0.1e-3],[0.95e-3,0.0],
  [1.02e-3,0.2e-3],[1.08e-3,0.1e-3],[1.15e-3,0.0],[1.21e-3,0.2e-3],[1.28e-3,0.1e-3],[1.34e-3,0.0],
  [0.15e-3,0.3e-3],[0.21e-3,0.3e-3],[0.27e-3,0.35e-3],[0.34e-3,0.3e-3],[0.40e-3,0.3e-3],[0.46e-3,0.35e-3],[0.53e-3,0.3e-3],
  [0.59e-3,0.3e-3],[0.66e-3,0.35e-3],[0.72e-3,0.3e-3],[0.79e-3,0.3e-3],[0.85e-3,0.35e-3],[0.92e-3,0.3e-3],[0.98e-3,0.3e-3],
  [1.05e-3,0.35e-3],[1.11e-3,0.3e-3],[1.18e-3,0.3e-3],[1.24e-3,0.35e-3],[1.31e-3,0.3e-3],
  [0.14e-3,0.5e-3],[0.21e-3,0.6e-3],[0.27e-3,0.4e-3],[0.34e-3,0.5e-3],[0.40e-3,0.6e-3],[0.47e-3,0.4e-3],[0.53e-3,0.5e-3],
  [0.60e-3,0.6e-3],[0.66e-3,0.4e-3],[0.73e-3,0.5e-3],[0.79e-3,0.6e-3],[0.86e-3,0.4e-3],[0.92e-3,0.5e-3],[0.99e-3,0.6e-3],
  [1.05e-3,0.4e-3],[1.12e-3,0.5e-3],[1.18e-3,0.6e-3],[1.25e-3,0.4e-3],[1.31e-3,0.5e-3],
  [0.17e-3,0.7e-3],[0.24e-3,0.75e-3],[0.30e-3,0.7e-3],[0.37e-3,0.65e-3],[0.44e-3,0.7e-3],[0.50e-3,0.75e-3],[0.57e-3,0.7e-3],
  [0.63e-3,0.65e-3],[0.70e-3,0.7e-3],[0.76e-3,0.75e-3],[0.83e-3,0.7e-3],[0.89e-3,0.65e-3],[0.96e-3,0.7e-3],[1.02e-3,0.75e-3],
  [1.09e-3,0.7e-3],[1.15e-3,0.65e-3],[1.22e-3,0.7e-3],[1.28e-3,0.75e-3],[1.35e-3,0.7e-3],
  [0.16e-3,0.9e-3],[0.23e-3,1.0e-3],[0.29e-3,0.8e-3],[0.36e-3,0.9e-3],[0.42e-3,1.0e-3],[0.49e-3,0.8e-3],[0.55e-3,0.9e-3],
  [0.62e-3,1.0e-3],[0.68e-3,0.8e-3],[0.75e-3,0.9e-3],[0.81e-3,1.0e-3],[0.88e-3,0.8e-3],[0.94e-3,0.9e-3],[1.01e-3,1.0e-3],
  [1.07e-3,0.8e-3],[1.14e-3,0.9e-3],[1.20e-3,1.0e-3],[1.27e-3,0.8e-3],[1.33e-3,0.9e-3],
  [0.19e-3,1.1e-3],[0.26e-3,1.15e-3],[0.32e-3,1.1e-3],[0.39e-3,1.05e-3],[0.46e-3,1.1e-3],[0.52e-3,1.15e-3],[0.59e-3,1.1e-3],
  [0.65e-3,1.05e-3],[0.72e-3,1.1e-3],[0.78e-3,1.15e-3],[0.85e-3,1.1e-3],[0.91e-3,1.05e-3],[0.98e-3,1.1e-3],[1.04e-3,1.15e-3],
  [1.11e-3,1.1e-3],[1.17e-3,1.05e-3],[1.24e-3,1.1e-3],[1.30e-3,1.15e-3],
  [0.18e-3,1.3e-3],[0.25e-3,1.4e-3],[0.31e-3,1.2e-3],[0.38e-3,1.3e-3],[0.44e-3,1.4e-3],[0.51e-3,1.2e-3],[0.57e-3,1.3e-3],
  [0.64e-3,1.4e-3],[0.70e-3,1.2e-3],[0.77e-3,1.3e-3],[0.83e-3,1.4e-3],[0.90e-3,1.2e-3],[0.96e-3,1.3e-3],[1.03e-3,1.4e-3],
  [1.09e-3,1.2e-3],[1.16e-3,1.3e-3],[1.22e-3,1.4e-3],[1.29e-3,1.2e-3],
  [0.22e-3,1.5e-3],[0.29e-3,1.55e-3],[0.36e-3,1.5e-3],[0.43e-3,1.45e-3],[0.50e-3,1.5e-3],[0.57e-3,1.55e-3],[0.64e-3,1.5e-3],
  [0.71e-3,1.45e-3],[0.78e-3,1.5e-3],[0.85e-3,1.55e-3],[0.92e-3,1.5e-3],[0.99e-3,1.45e-3],[1.06e-3,1.5e-3],[1.13e-3,1.55e-3],
  [1.20e-3,1.5e-3],[1.27e-3,1.45e-3],
  [0.20e-3,1.7e-3],[0.27e-3,1.8e-3],[0.34e-3,1.6e-3],[0.41e-3,1.8e-3],[0.48e-3,1.7e-3],[0.55e-3,1.8e-3],[0.62e-3,1.6e-3],
  [0.69e-3,1.7e-3],[0.76e-3,1.8e-3],[0.83e-3,1.6e-3],[0.90e-3,1.7e-3],[0.97e-3,1.8e-3],[1.04e-3,1.6e-3],[1.11e-3,1.7e-3],
  [1.18e-3,1.8e-3],[1.25e-3,1.6e-3],
  [0.24e-3,1.95e-3],[0.31e-3,2.0e-3],[0.38e-3,2.05e-3],[0.45e-3,1.9e-3],[0.52e-3,2.05e-3],[0.60e-3,1.95e-3],[0.73e-3,2.0e-3],
  [0.80e-3,1.9e-3],[0.87e-3,2.05e-3],[0.94e-3,1.95e-3],[1.01e-3,2.0e-3],[1.08e-3,1.9e-3],[1.15e-3,2.05e-3],[1.22e-3,1.95e-3],
  [1.40e-3,0.1e-3],[1.47e-3,0.3e-3],[1.53e-3,0.0],[1.60e-3,0.1e-3],[1.66e-3,0.2e-3],[1.72e-3,0.0],[1.79e-3,0.2e-3],
  [1.85e-3,0.1e-3],[1.92e-3,0.0],[1.98e-3,0.2e-3],[1.40e-3,0.6e-3],[1.50e-3,0.7e-3]
];

// regression lines: [intercept, slope]
const fitA = { l1: [-0.00016, 0.818], l2: [-0.0007, 1.573] };
const fitB = { l1: [0.00032, 0.052], l2: [-0.00048, 1.358] };
const fitC = { l1: [0.00038, -0.006], l2: [0.00088, 0.133] };

const legendA = ["L1, slope 0.818", "L1, intercept -0.00016", "L2, slope 1.573", "L2, intercept -0.0007"];
const legendB = ["L1, slope 0.052", "L1, intercept 0.00032", "L2, slope 1.358", "L2, intercept -0.00048"];
const legendC = ["L1, slope -0.006", "L1, intercept 0.00038", "L2, slope 0.133", "L2, intercept 0.00088"];

// axis ranges and ticks
const xRangeAB = [0.000281, 0.00344];
const xRangeC = [-0.00019, 0.008507];
const yRangeA = [-0.0002, 0.00852];
const yRangeBC = [-0.00114, 0.02988];

const xTicksAB = [0.0005, 0.0010, 0.0015, 0.0020, 0.0025, 0.0030];
const xLabelsAB = ["0.0005", "0.0010", "0.0015", "0.0020", "0.0025", "0.0030"];
const xTicksC = [0, 0.002, 0.004, 0.006, 0.008];
const xLabelsC = ["0.0", "0.002", "0.004", "0.006", "0.008"];
const yTicksA = [0, 0.002, 0.004, 0.006, 0.008];
const yLabelsA = ["0.0", "0.002", "0.004", "0.006", "0.008"];
const yTicksBC = [0, 0.005, 0.010, 0.015, 0.020, 0.025];
const yLabelsBC = ["0.0", "", "0.010", "", "0.020", ""];

const FONT = '"Liberation Sans", Arial, Helvetica, sans-serif';
Chart.defaults.font.family = FONT;
Chart.defaults.color = "#000";

// box round the plot plus an R-style legend inside it
const framePlugin = {
    id: "frame",
    afterDraw(chart, args, opts) {
        const { ctx, chartArea: a } = chart;
        ctx.save();
        ctx.strokeStyle = "#000";
        ctx.lineWidth = 1.2;
        ctx.strokeRect(a.left, a.top, a.width, a.height);

        const x0 = a.left + opts.dx;
        const y0 = a.top + opts.dy;
        ctx.fillStyle = "#fff";
        ctx.fillRect(x0, y0, opts.w, opts.h);
        ctx.strokeRect(x0, y0, opts.w, opts.h);
        ctx.font = "17.5px " + FONT;
        ctx.fillStyle = "#000";
        ctx.textBaseline = "middle";
        opts.labels.forEach((text, i) => {
            const y = y0 + 22 + i * 23;
            ctx.setLineDash(i < 2 ? [] : [4, 3]);
            ctx.beginPath();
            ctx.moveTo(x0 + 23, y);
            ctx.lineTo(x0 + 70, y);
            ctx.stroke();
            ctx.setLineDash([]);
            ctx.fillText(text, x0 + 92, y);
        });
        ctx.restore();
    },
};

function axis(range, ticks, labels, isY) {
    return {
        type: "linear",
        min: range[0],
        max: range[1],
        afterBuildTicks: (s) => { s.ticks = ticks.map((v) => ({ value: v })); },
        afterFit: (s) => { if (isY) s.width = 37; else s.height = 30; },
        grid: { display: true, drawOnChartArea: false, drawTicks: true, tickLength: 7, color: "#000", lineWidth: 1.2 },
        border: { display: false },
        ticks: {
            autoSkip: false,
            color: "#000",
            font: { size: 17 },
            padding: isY ? -7 : 7.6,
            minRotation: isY ? 90 : 0,
            maxRotation: isY ? 90 : 0,
            crossAlign: isY ? "center" : "near",
            callback: (v, i) => labels[i],
        },
    };
}

function makePanel(id, cfg) {
    const [x0, x1] = cfg.xRange;
    const line = ([b0, b1]) => [{ x: x0, y: b0 + b1 * x0 }, { x: x1, y: b0 + b1 * x1 }];

    new Chart(document.getElementById(id), {
        type: "scatter",
        data: {
            datasets: [
                { data: line(cfg.fit.l1), showLine: true, borderColor: "#000", borderWidth: 1.2, pointRadius: 0 },
                { data: line(cfg.fit.l2), showLine: true, borderColor: "#000", borderWidth: 1.2, borderDash: [4, 3], pointRadius: 0 },
                {
                    data: cfg.pts.map(([x, y]) => ({ x, y })),
                    pointRadius: 3.5,
                    pointHoverRadius: 3.5,
                    pointBackgroundColor: "#000",
                    pointBorderWidth: 0,
                },
            ],
        },
        options: {
            responsive: false,
            animation: false,
            devicePixelRatio: 1,
            layout: { padding: { left: 0, right: 1, top: 0, bottom: 0 } },
            scales: {
                x: axis(cfg.xRange, cfg.xTicks, cfg.xLabels, false),
                y: axis(cfg.yRange, cfg.yTicks, cfg.yLabels, true),
            },
            plugins: {
                legend: { display: false },
                tooltip: { enabled: false },
                title: {
                    display: true,
                    text: cfg.title,
                    fullSize: false,
                    color: "#000",
                    font: { size: 26, weight: "normal" },
                    padding: { top: 0.4, bottom: 6.7 },
                },
                subtitle: {
                    display: true,
                    text: cfg.tag,
                    position: "bottom",
                    fullSize: false,
                    color: "#000",
                    font: { size: 17, weight: "normal" },
                    padding: { top: 7.8, bottom: 3.8 },
                },
                frame: cfg.legend,
            },
        },
        plugins: [framePlugin],
    });
}

makePanel("chartA", {
    title: "Observed volatility versus unobserved 25-day volatility", tag: "(a)",
    pts: ptsA, fit: fitA,
    xRange: xRangeAB, xTicks: xTicksAB, xLabels: xLabelsAB,
    yRange: yRangeA, yTicks: yTicksA, yLabels: yLabelsA,
    legend: { labels: legendA, dx: 54.7, dy: 19, w: 366.6, h: 116.4 },
});

makePanel("chartB", {
    title: "Observed 1-day volatility versus future squared returns", tag: "(b)",
    pts: ptsB, fit: fitB,
    xRange: xRangeAB, xTicks: xTicksAB, xLabels: xLabelsAB,
    yRange: yRangeBC, yTicks: yTicksBC, yLabels: yLabelsBC,
    legend: { labels: legendB, dx: 54.7, dy: 49.7, w: 366.6, h: 116 },
});

makePanel("chartC", {
    title: "Observed 25-day volatility versus future squared returns", tag: "(c)",
    pts: ptsC, fit: fitC,
    xRange: xRangeC, xTicks: xTicksC, xLabels: xLabelsC,
    yRange: yRangeBC, yTicks: yTicksBC, yLabels: yLabelsBC,
    legend: { labels: legendC, dx: 380.3, dy: 50.4, w: 355, h: 115.6 },
});
</script>
</body>
</html>
